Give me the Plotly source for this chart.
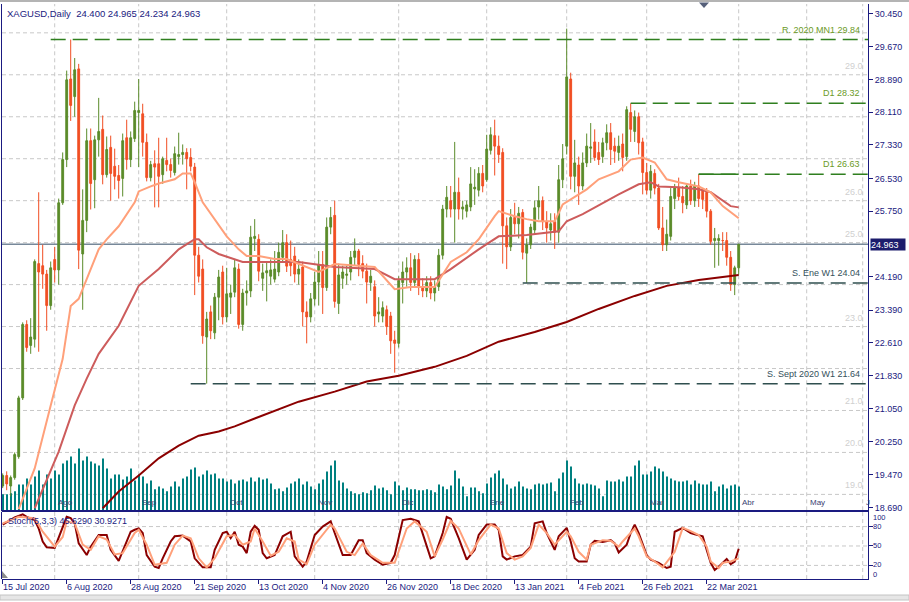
import pandas as pd
import plotly.graph_objects as go

W, H = 909, 602
def px(x): return x / W
def py(y): return 1 - y / H

# ---------------- data ----------------
dates = [d for d in pd.bdate_range("2020-07-15", "2021-04-01")
         if d.strftime("%m-%d") not in ("12-25", "01-01")]

open_ = [19.20,19.45,19.20,19.40,19.90,21.30,23.05,22.55,22.70,24.50,
         24.45,24.25,23.50,24.60,24.35,25.95,26.98,28.90,28.48,29.14,
         24.73,25.53,27.43,26.50,27.45,27.70,26.62,27.27,26.82,26.60,
         26.53,27.50,26.98,27.48,28.10,28.07,27.39,26.55,26.88,26.88,
         26.62,26.96,26.86,26.67,27.05,27.10,27.15,27.03,26.80,24.70,
         24.37,22.75,23.35,22.85,23.70,24.30,23.23,23.70,23.82,24.37,
         23.05,23.80,23.85,25.10,25.08,24.15,24.28,24.20,24.13,24.30,
         24.65,25.00,24.60,24.68,24.25,24.42,23.35,23.23,23.66,24.06,
         24.48,23.93,25.37,25.65,23.55,24.15,24.22,24.30,24.65,24.80,
         24.50,24.32,24.05,23.95,23.30,23.25,23.40,23.25,22.68,22.60,
         24.05,24.30,24.40,24.05,24.60,23.95,23.85,24.05,23.80,23.95,
         24.70,25.80,26.00,25.80,26.20,25.80,25.75,25.85,26.28,26.25,
         26.65,26.50,27.20,27.55,27.30,27.15,25.40,24.90,25.60,25.45,
         25.72,24.75,24.95,25.30,25.85,26.00,25.50,25.30,25.50,25.25,
         26.50,27.30,28.90,26.58,26.85,26.35,26.90,27.25,27.40,27.15,
         27.05,27.38,27.62,27.30,27.15,27.35,27.05,28.10,27.65,28.00,
         27.40,26.67,26.25,26.65,26.30,25.35,24.95,25.15,26.05,26.30,
         26.10,25.90,26.35,26.00,26.35,26.27,26.20,25.75,25.05,25.05,
         25.05,25.05,24.65,24.00,24.400]
high_ = [19.50,19.55,19.45,20.00,21.35,23.10,23.15,23.20,24.60,26.20,
         24.95,24.35,24.55,24.90,26.05,27.15,29.10,29.84,29.40,29.26,
         26.27,27.72,27.72,27.55,28.45,28.03,27.53,27.55,27.24,26.85,
         27.60,27.93,27.65,28.36,28.90,28.31,27.60,26.95,27.20,27.50,
         27.05,27.50,27.00,27.29,27.62,27.34,27.25,27.25,26.90,24.90,
         24.60,23.35,23.50,23.80,24.35,24.45,24.40,24.00,24.60,24.50,
         23.90,24.10,25.40,25.56,25.20,24.50,24.55,24.60,24.80,25.00,
         25.30,25.20,25.05,24.90,24.60,24.55,23.60,23.80,24.30,24.80,
         24.80,25.60,25.85,26.00,24.50,24.45,24.45,24.80,25.10,24.85,
         24.70,24.50,24.35,24.10,23.70,23.60,23.50,23.35,22.90,24.20,
         24.55,24.65,24.75,24.70,24.75,24.15,24.20,24.20,24.10,24.85,
         25.90,26.35,26.35,27.40,26.55,26.00,26.00,26.80,26.75,26.80,
         26.85,27.57,27.75,27.93,27.55,27.25,25.60,25.80,25.95,25.85,
         25.80,25.10,25.45,26.00,26.35,26.10,25.75,25.70,25.70,26.85,
         27.35,30.10,29.05,27.45,27.05,27.15,27.60,27.85,27.70,27.40,
         27.50,27.82,27.85,27.50,27.55,27.60,28.25,28.32,28.15,28.10,
         27.50,26.90,26.85,26.75,26.40,25.85,25.55,26.30,26.40,26.55,
         26.35,26.40,26.50,26.45,26.63,26.30,26.30,25.80,25.35,25.20,
         25.25,25.25,24.80,24.45,24.965]
low_ = [19.15,19.10,18.95,19.35,19.85,21.25,22.40,22.35,22.50,22.40,
        23.90,22.90,23.40,24.05,24.00,25.90,26.80,27.90,28.00,24.37,
        23.40,25.25,25.79,25.82,27.05,26.39,26.55,26.00,26.27,26.05,
        26.10,26.74,26.80,27.40,26.80,27.05,26.46,26.46,25.84,25.84,
        26.40,26.70,26.55,26.60,26.86,26.86,26.27,26.70,23.75,24.05,
        22.59,21.64,22.70,22.70,23.15,23.05,23.10,23.30,23.70,22.95,
        22.90,23.50,23.70,24.80,24.08,23.85,23.60,24.00,24.05,24.20,
        24.55,24.30,24.20,24.05,24.00,23.00,22.60,23.10,23.50,23.50,
        23.30,23.85,25.20,23.45,23.30,23.90,24.00,24.10,24.45,24.20,
        24.15,23.55,23.85,23.00,23.10,23.10,22.80,22.35,21.90,22.50,
        23.55,23.95,23.85,23.95,23.75,23.70,23.70,23.65,23.60,23.85,
        24.60,25.60,25.60,25.00,25.55,25.55,25.60,25.75,25.90,26.10,
        26.20,26.45,27.10,26.60,26.90,24.50,24.37,24.80,25.20,25.10,
        24.60,24.04,24.85,25.20,25.55,25.30,25.00,25.05,24.85,25.00,
        26.30,27.10,26.27,26.20,25.90,26.25,26.80,26.90,26.95,26.85,
        26.90,27.20,26.85,26.90,26.95,26.70,26.95,27.40,27.40,27.10,
        26.15,26.15,26.05,26.15,25.30,24.80,24.80,25.05,25.80,26.00,
        25.70,25.80,25.90,25.85,25.85,25.80,25.60,24.95,24.40,24.45,
        24.80,24.45,23.85,23.75,24.234]
close_ = [19.45,19.25,19.40,19.95,21.30,23.05,22.50,22.75,24.55,24.30,
          24.25,23.50,24.40,24.35,25.95,26.98,28.88,28.27,29.12,24.82,
          25.53,27.43,26.41,27.45,27.65,26.62,27.22,26.65,26.58,26.48,
          27.43,26.98,27.50,28.15,28.15,27.39,26.55,26.86,26.80,26.58,
          27.00,26.86,26.72,27.12,27.10,27.15,27.00,26.82,24.70,24.20,
          22.78,23.18,22.90,23.70,24.18,23.23,23.78,23.80,24.40,23.05,
          23.80,23.85,25.13,25.15,24.32,24.28,24.33,24.35,24.37,24.77,
          25.00,24.44,24.45,24.25,24.37,23.35,23.23,23.66,24.06,24.48,
          23.93,25.37,25.60,23.60,24.23,24.30,24.25,24.65,24.80,24.48,
          24.32,24.06,24.20,23.25,23.35,23.45,23.00,22.66,22.60,24.10,
          24.30,24.40,24.05,24.60,23.95,23.85,24.05,23.80,23.95,24.70,
          25.80,26.08,25.80,26.20,25.80,25.85,25.90,26.40,26.32,26.65,
          26.35,27.23,27.57,27.30,27.10,25.40,24.90,25.60,25.45,25.70,
          24.77,24.95,25.37,25.83,26.00,25.50,25.35,25.45,25.25,26.50,
          27.00,28.95,26.58,26.90,26.35,26.90,27.30,27.28,27.03,26.98,
          27.38,27.62,27.22,27.18,27.30,27.03,28.17,27.70,28.00,27.38,
          26.67,26.25,26.70,26.30,25.35,24.95,25.20,26.10,26.30,26.10,
          25.95,26.35,26.00,26.35,26.05,26.03,25.75,25.03,25.10,25.10,
          25.05,24.65,24.00,24.40,24.963]

# tick volume (thousands)
volume_k = [16,16,17,19,26,26,32,26,34,40, 26,36,32,40,36,47,50,54,47,62,
            50,54,49,47,45,52,42,32,36,36, 31,34,42,30,36,34,27,30,21,24,
            22,19,24,29,24,32,34,41,43,34, 36,40,36,37,32,32,29,31,27,30,
            31,29,33,29,33,31,32,27,21,22, 19,23,27,29,32,26,29,24,21,27,
            31,39,45,50,30,28,22,19,17,16, 18,17,20,25,22,23,20,16,29,25,
            20,23,21,21,20,20,21,20,18,26, 24,21,25,40,32,24,14,23,23,19,
            17,27,33,37,40,32,26,22,24,29, 24,22,21,26,27,26,27,28,19,32,
            38,50,44,32,27,26,27,26,25,22, 14,30,29,29,31,29,34,34,45,50,
            36,36,39,44,42,39,34,32,30,29, 29,30,26,30,27,26,26,29,19,24,
            26,22,25,26,24]

# moving averages (bar index, value)
ma_fast_idx = [4,8,12,15,17,19,21,24,26,29,33,34,37,39,43,45,47,48,50,53,56,59,61,64,68,71,74,79,83,93,98,
               102,108,112,116,119,123,124,128,131,134,138,140,143,146,149,154,157,160,163,166,169,172,174,177,180,184]
ma_fast = [18.65,19.62,21.12,22.23,23.49,23.66,24.13,24.84,25.08,25.39,25.96,26.22,26.34,26.41,26.51,26.65,26.65,
           26.44,25.96,25.56,25.15,24.84,24.68,24.68,24.61,24.61,24.49,24.30,24.49,24.42,23.89,23.94,23.94,24.54,
           24.77,25.08,25.63,25.75,25.63,25.56,25.51,25.51,25.91,26.08,26.27,26.51,26.70,26.98,27.03,26.91,26.51,
           26.44,26.39,26.34,26.20,25.87,25.58]
ma_mid_idx = [8,14,18,21,24,29,34,39,44,48,49,51,54,58,60,64,74,83,93,98,108,112,119,124,131,139,141,145,149,
              154,159,162,164,169,174,177,182,184]
ma_mid = [18.67,20.02,21.12,21.76,22.35,23.02,23.97,24.37,24.84,25.08,25.08,24.89,24.73,24.61,24.54,24.54,24.54,
          24.42,24.37,24.13,24.13,24.37,24.84,25.15,25.18,25.27,25.51,25.68,25.89,26.15,26.39,26.44,26.34,26.32,
          26.27,26.20,25.87,25.84]
ma_slow_idx = [25,29,34,39,44,49,54,58,63,68,74,83,91,99,108,116,124,133,141,149,158,166,174,184]
ma_slow = [18.67,19.07,19.45,19.86,20.16,20.40,20.50,20.62,20.81,21.00,21.21,21.45,21.69,21.83,22.04,22.30,
           22.64,22.87,23.11,23.42,23.73,23.97,24.11,24.23]

# stochastic (5,3,3)
stk_idx = [0,3,5,6,8,9,10,11,13,14,16,17,18,19,21,22,24,26,27,29,30,32,33,34,35,36,38,39,40,42,43,45,47,48,50,
           52,53,55,56,57,58,59,60,61,62,63,64,65,66,68,70,72,73,75,76,78,80,82,83,85,87,89,90,91,93,95,97,98,
           100,102,104,106,107,108,110,111,112,114,116,118,119,121,123,124,125,126,128,130,132,133,135,136,138,
           139,141,142,143,144,146,147,148,150,152,153,154,156,157,158,159,161,162,164,166,167,168,170,172,173,
           175,176,177,178,179,181,182,183,184]
stk = [83,94,99,95,90,77,57,48,47,64,95,93,85,54,36,49,67,67,44,27,42,72,75,77,70,36,18,16,31,57,65,66,57,31,
       17,17,44,70,72,62,72,52,49,39,72,81,75,39,31,36,65,72,34,18,26,67,80,88,70,36,36,59,59,39,29,21,24,36,
       90,92,88,52,31,34,70,95,92,62,29,44,67,83,83,75,34,29,34,36,49,85,88,70,44,65,78,57,31,26,26,52,58,56,
       59,54,40,52,70,83,70,36,29,24,16,18,72,78,70,68,65,44,24,13,18,30,22,26,45.629]
std_idx = [0,4,8,10,13,15,16,18,20,22,24,26,28,30,33,34,36,38,41,43,45,47,49,51,53,56,58,60,62,63,65,67,69,71,
           73,74,76,78,82,83,86,88,90,92,95,98,101,103,106,108,110,112,114,116,117,119,122,124,126,128,130,132,
           134,136,138,141,142,144,146,147,150,152,154,155,158,159,161,163,165,168,170,172,174,176,177,179,180,
           182,183,184]
std = [85,95,93,72,49,64,88,85,52,44,65,60,37,39,70,75,52,21,24,52,66,62,31,17,31,65,67,52,57,77,57,35,41,62,57,
       29,22,52,83,77,41,36,54,36,24,24,77,88,72,34,60,89,77,49,37,59,83,77,39,29,34,47,83,70,52,72,65,41,29,52,
       59,58,49,57,77,65,34,26,17,41,78,73,67,49,26,16,24,26,29,30.9271]

# support / resistance objects
level_names = ["R. 2020 MN1 29.84", "D1 28.32", "D1 26.63", "S. Ene W1 24.04", "S. Sept 2020 W1 21.64"]
level_values = [29.84, 28.32, 26.63, 24.04, 21.64]
level_start = [12, 157, 174, 130, 47]

price_ticks = [30.45, 29.67, 28.89, 28.11, 27.33, 26.53, 25.75, 24.19, 23.39, 22.61, 21.83, 21.05, 20.25, 19.47, 18.69]
round_levels = [29, 26, 25, 23, 21, 20, 19]
stoch_labels = [100, 80, 50, 20, 0]
month_names = {1: "Ene", 2: "Feb", 3: "Mar", 4: "Abr", 5: "May", 6: "J", 8: "Ago", 9: "Sep",
               10: "Oct", 11: "Nov", 12: "Dic"}
future_months = [(201, 5), (215, 6)]

# ---------------- styling ----------------
NAVY = "#1a1a80"
GREEN = "#5b8c2a"
RED = "#f14e23"
TEAL = "#008080"
GRID = "#c8c8c8"
FONT = "Liberation Sans, Arial, sans-serif"
LV_GREEN = "#2f7f1f"
LV_SLATE = "#2f4f4f"

idx = list(range(len(dates)))
XMIN, XMAX = -0.175, 216.325
PMIN, PMAX = 18.6211, 30.6875
SMIN, SMAX = -1.08, 102.8
XD = [px(2), px(868)]
YM = [py(512), py(4)]
YS = [py(581), py(513.5)]

fig = go.Figure()
fig.add_trace(go.Bar(x=idx, y=volume_k, xaxis="x", yaxis="y", width=0.3,
                     marker=dict(color=TEAL, line=dict(width=0)), hoverinfo="skip"))
fig.add_trace(go.Candlestick(x=idx, open=open_, high=high_, low=low_, close=close_,
                             xaxis="x", yaxis="y3", whiskerwidth=0,
                             increasing=dict(line=dict(color=GREEN, width=1), fillcolor=GREEN),
                             decreasing=dict(line=dict(color=RED, width=1), fillcolor=RED),
                             hoverinfo="skip"))
for xi, yv, col in [(ma_slow_idx, ma_slow, "#8b0000"), (ma_mid_idx, ma_mid, "#cd5c5c"),
                    (ma_fast_idx, ma_fast, "#ffa07a")]:
    fig.add_trace(go.Scatter(x=xi, y=yv, mode="lines", xaxis="x", yaxis="y3",
                             line=dict(color=col, width=2), hoverinfo="skip"))

for name, v, s in zip(level_names, level_values, level_start):
    col = LV_GREEN if not name.startswith("S.") else LV_SLATE
    fig.add_trace(go.Scatter(x=[s, XMAX], y=[v, v], mode="lines", xaxis="x", yaxis="y3",
                             line=dict(color=col, width=1.5, dash="15px,7px"), hoverinfo="skip"))
    fig.add_annotation(x=px(862), xref="paper", y=v, yref="y3", yshift=10, text=name,
                       showarrow=False, xanchor="right", yanchor="middle",
                       font=dict(family=FONT, size=9, color="#6b9a26" if col == LV_GREEN else "#34505a"))
# solid stretch of the latest D1 level up to the last bar
fig.add_trace(go.Scatter(x=[level_start[2], idx[-1]], y=[level_values[2]] * 2, mode="lines", xaxis="x",
                         yaxis="y3", line=dict(color=LV_GREEN, width=1.5), hoverinfo="skip"))

fig.add_trace(go.Scatter(x=stk_idx, y=stk, mode="lines", xaxis="x2", yaxis="y2",
                         line=dict(color="#8b0000", width=2), hoverinfo="skip"))
fig.add_trace(go.Scatter(x=std_idx, y=std, mode="lines", xaxis="x2", yaxis="y2",
                         line=dict(color="#ffa07a", width=2), hoverinfo="skip"))

shapes = []
for g in range(19, 31):
    shapes.append(dict(type="line", xref="x domain", x0=0, x1=1, yref="y3", y0=g, y1=g,
                       line=dict(color=GRID, width=1, dash="4px,3px"), layer="below"))
month_idx = []
for i in range(1, len(dates)):
    if dates[i].month != dates[i - 1].month:
        month_idx.append((i, dates[i].month))
month_idx += future_months
for mi, m in month_idx:
    for yr in ("y domain", "y2 domain"):
        shapes.append(dict(type="line", xref="x", x0=mi, x1=mi, yref=yr, y0=0, y1=1,
                           line=dict(color=GRID, width=1, dash="4px,3px"), layer="below"))
    fig.add_annotation(x=mi, xref="x", y=py(504), yref="paper", text=month_names[m], showarrow=False,
                       xanchor="left", yanchor="middle", xshift=1,
                       font=dict(family=FONT, size=8, color="#3a4272"))
for lv in (80, 50, 20):
    shapes.append(dict(type="line", xref="x2 domain", x0=0, x1=1, yref="y2", y0=lv, y1=lv,
                       line=dict(color=GRID, width=1, dash="4px,3px"), layer="below"))
# current bid line
shapes.append(dict(type="line", xref="x domain", x0=0, x1=1, yref="y3", y0=close_[-1], y1=close_[-1],
                   line=dict(color="#778899", width=1.5), layer="below"))
# frame pieces
shapes.append(dict(type="line", xref="paper", yref="paper", x0=px(1.5), x1=px(1.5), y0=YS[0], y1=YS[1],
                   line=dict(color=NAVY, width=1)))
shapes.append(dict(type="rect", xref="paper", yref="paper", x0=0, x1=1, y0=py(2), y1=1,
                   line=dict(width=0), fillcolor="#b4b4b4"))
shapes.append(dict(type="rect", xref="paper", yref="paper", x0=0, x1=1, y0=0, y1=py(597),
                   line=dict(color="#c4c4c4", width=1), fillcolor="#e6e6e6"))
shapes.append(dict(type="path", xref="paper", yref="paper",
                   path=f"M {px(699)} {py(2.5)} L {px(709)} {py(2.5)} L {px(704)} {py(8)} Z",
                   fillcolor="#56607a", line=dict(width=0)))
shapes.append(dict(type="path", xref="paper", yref="paper",
                   path=f"M {px(2)} {py(573)} L {px(2)} {py(580)} L {px(8)} {py(580)} Z",
                   fillcolor="#8a8a8a", line=dict(width=0)))

# bottom date labels every 16 bars
date_ticks = list(range(0, len(dates), 16))
for t in date_ticks:
    d = dates[t]
    fig.add_annotation(x=t, xref="x2", y=py(589), yref="paper", text=f"{d.day} {d.strftime('%b')} {d.year}",
                       showarrow=False, xanchor="left", yanchor="middle", xshift=-2,
                       font=dict(family=FONT, size=9, color=NAVY))

# stochastic scale labels: 100 and 0 sit inside the panel edges, as in the terminal
for lv in stoch_labels:
    if lv == 100:
        yv, anchor, sh = SMAX, "top", 0
    elif lv == 0:
        yv, anchor, sh = SMIN, "bottom", -1
    else:
        yv, anchor, sh = lv, "middle", (1 if lv == 20 else 0)
    fig.add_annotation(x=px(872), xref="paper", y=yv, yref="y2", yshift=sh, text=str(lv), showarrow=False,
                       xanchor="left", yanchor=anchor, borderpad=0,
                       font=dict(family=FONT, size=7.5, color=NAVY))

# titles
fig.add_annotation(x=px(5), xref="paper", y=py(13.5), yref="paper", showarrow=False, xanchor="left",
                   yanchor="middle",
                   text=f"XAGUSD,Daily\u00a0\u00a0{open_[-1]:.3f} {high_[-1]:.3f} {low_[-1]:.3f} {close_[-1]:.3f}",
                   font=dict(family=FONT, size=9.5, color=NAVY))
fig.add_annotation(x=px(6), xref="paper", y=py(523), yref="paper", showarrow=False, xanchor="left",
                   yanchor="middle", text=f"Stoch(5,3,3) {stk[-1]:.4f} {std[-1]:.4f}",
                   font=dict(family=FONT, size=9, color=NAVY))
for rv in round_levels:
    fig.add_annotation(x=px(865), xref="paper", y=rv, yref="y3", yshift=9, text=f"{rv:.1f}",
                       showarrow=False, xanchor="right", yanchor="middle",
                       font=dict(family=FONT, size=9, color="#d0d0d0"))
# bid price box
fig.add_annotation(x=px(869.5), xref="paper", y=close_[-1], yref="y3", text=f"{close_[-1]:.3f}",
                   showarrow=False, xanchor="left", yanchor="middle", align="left", width=34, height=11,
                   borderpad=0, bgcolor="#1c1c6c", font=dict(family=FONT, size=9, color="white"))

axis_common = dict(showgrid=False, zeroline=False)
fig.update_layout(
    width=W, height=H, margin=dict(l=0, r=0, t=0, b=0),
    paper_bgcolor="white", plot_bgcolor="white", showlegend=False, hovermode=False,
    boxgap=0.35,
    xaxis=dict(domain=XD, range=[XMIN, XMAX], anchor="y", showticklabels=False, ticks="",
               showline=True, linecolor=NAVY, linewidth=1, rangeslider=dict(visible=False), **axis_common),
    yaxis=dict(domain=YM, range=[0, 508], anchor="x", showticklabels=False, side="left",
               showline=True, linecolor=NAVY, linewidth=1, **axis_common),
    yaxis3=dict(overlaying="y", anchor="x", side="right", range=[PMIN, PMAX],
                tickvals=price_ticks, ticktext=[f"{v:.3f}" for v in price_ticks],
                ticks="outside", ticklen=4, tickcolor=NAVY, showline=True, linecolor=NAVY, linewidth=1,
                tickfont=dict(family=FONT, size=9, color=NAVY), **axis_common),
    xaxis2=dict(domain=XD, range=[XMIN, XMAX], anchor="y2", tickvals=date_ticks, ticks="outside",
                ticklen=4, tickcolor=NAVY, showticklabels=False, showline=True, mirror=True,
                linecolor=NAVY, linewidth=1, **axis_common),
    yaxis2=dict(domain=YS, range=[SMIN, SMAX], anchor="x2", side="right", tickvals=[80, 50, 20],
                ticks="outside", ticklen=4, tickcolor=NAVY, showticklabels=False, showline=True,
                linecolor=NAVY, linewidth=1, **axis_common),
    shapes=shapes,
)

fig.write_html("out.html")
